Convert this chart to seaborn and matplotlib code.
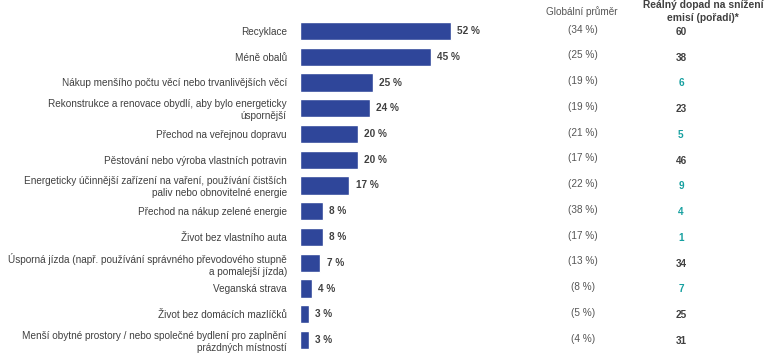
import matplotlib
matplotlib.use("Agg")
import matplotlib.pyplot as plt
import matplotlib.transforms as mtransforms
import seaborn as sns
import pandas as pd

categories = [
    "Recyklace",
    "Méně obalů",
    "Nákup menšího počtu věcí nebo trvanlivějších věcí",
    "Rekonstrukce a renovace obydlí, aby bylo energeticky\núspornější",
    "Přechod na veřejnou dopravu",
    "Pěstování nebo výroba vlastních potravin",
    "Energeticky účinnější zařízení na vaření, používání čistších\npaliv nebo obnovitelné energie",
    "Přechod na nákup zelené energie",
    "Život bez vlastního auta",
    "Úsporná jízda (např. používání správného převodového stupně\na pomalejší jízda)",
    "Veganská strava",
    "Život bez domácích mazlíčků",
    "Menší obytné prostory / nebo společné bydlení pro zaplnění\nprázdných místností",
]
values = [52, 45, 25, 24, 20, 20, 17, 8, 8, 7, 4, 3, 3]
global_avg = [34, 25, 19, 19, 21, 17, 22, 38, 17, 13, 8, 5, 4]
impact_rank = [60, 38, 6, 23, 5, 46, 9, 4, 1, 34, 7, 25, 31]

header_global = "Globální průměr"
header_impact = "Reálný dopad na snížení\nemisí (pořadí)*"

sns.set_theme(style="white")
plt.rcParams["font.family"] = ["Liberation Sans", "DejaVu Sans"]

W, H = 770, 356
fig = plt.figure(figsize=(W / 100, H / 100), dpi=100)
row = 25.75
top_px = 31 - row / 2
ax = fig.add_axes([300 / W, (H - (top_px + 13 * row)) / H, 470 / W, 13 * row / H])

df = pd.DataFrame({"cat": categories, "val": values})
bar_color = "#2f469a"
sns.barplot(data=df, y="cat", x="val", orient="h", color=bar_color,
            width=0.7, saturation=1, ax=ax)

px_per_unit = 2.9
ax.set_xlim(0, 470 / px_per_unit)
ax.set_xlabel("")
ax.set_ylabel("")
ax.set_xticks([])
for s in ax.spines.values():
    s.set_visible(False)
ax.tick_params(axis="y", length=0, pad=9.5, labelsize=7.2, labelcolor="#404040")
for t in ax.get_yticklabels():
    t.set_linespacing(1.25)

text_dark = "#404040"
teal = "#16a0a0"
for i, v in enumerate(values):
    ax.annotate(f"{v} %", xy=(v, i), xytext=(4.5, 0), textcoords="offset points",
                ha="left", va="center", fontsize=7.2, fontweight="bold", color=text_dark)

trans_g = mtransforms.blended_transform_factory(fig.transFigure, ax.transData)
for i, g in enumerate(global_avg):
    ax.text(583 / W, i - 0.05, f"({g} %)", transform=trans_g, ha="center", va="center",
            fontsize=7.2, color="#555555")
for i, r in enumerate(impact_rank):
    c = teal if r <= 10 else text_dark
    ax.text(681 / W, i + 0.03, f"{r}", transform=trans_g, ha="center", va="center",
            fontsize=7.2, fontweight="bold", color=c)

fig.text(582 / W, 1 - 12 / H, header_global, ha="center", va="center",
         fontsize=7.2, color="#555555")
fig.text(703 / W, 1 - 11.5 / H, header_impact, ha="center", va="center",
         fontsize=7.4, fontweight="bold", color=text_dark, linespacing=1.3)

fig.savefig("out.png", dpi=100, facecolor="white")
